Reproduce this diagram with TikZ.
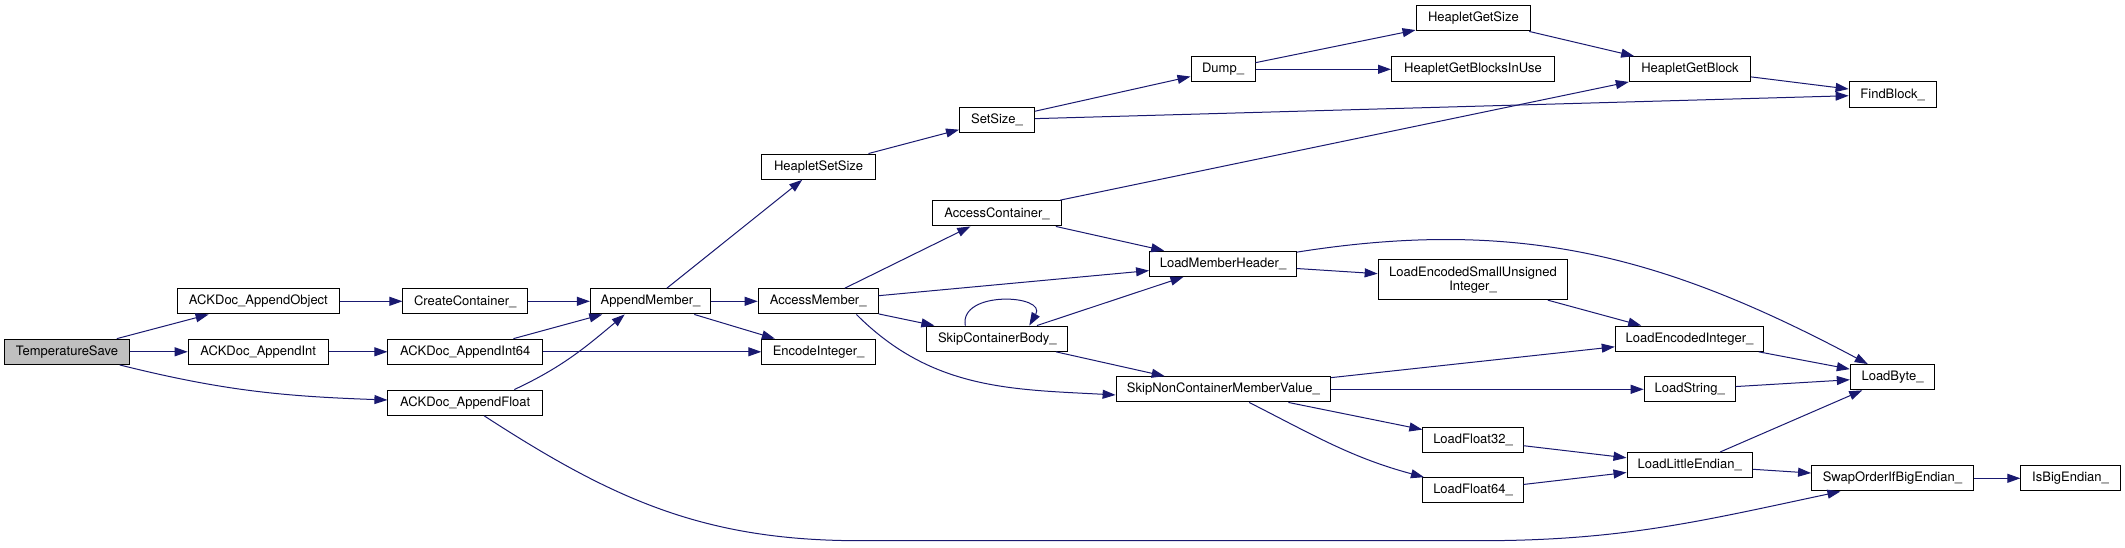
\documentclass[tikz,border=0pt]{standalone}
\usepackage{fontspec}
\setmainfont{TeX Gyre Heros}
\usetikzlibrary{arrows.meta}
\definecolor{edgeblue}{HTML}{191970}
\definecolor{rootgray}{HTML}{BFBFBF}

\begin{document}
\begin{tikzpicture}[
    x=1pt, y=1pt,
    fn/.style={
      rectangle, draw=black, fill=white, line width=1pt,
      font=\fontsize{13}{15}\selectfont,
      inner xsep=2pt, inner ysep=2pt,
      minimum height=25.3pt, align=center
    },
    root/.style={fn, fill=rootgray},
    edge/.style={-{Triangle[length=13pt, width=9pt]}, line width=1pt, draw=edgeblue}
  ]

    % ── Canvas (pixel units, y up) ───────────────────────────────────────
    \path[fill=white] (0,0) rectangle (2125,547);

    % ── Column 0-2: callers ──────────────────────────────────────────────
    \node[root, minimum width=124.3pt] (ts)   at (67,195.2)    {TemperatureSave};
    \node[fn, minimum width=162.6pt]   (ao)   at (258.4,245.7) {ACKDoc\_AppendObject};
    \node[fn, minimum width=140pt]     (ai)   at (258.2,195.2) {ACKDoc\_AppendInt};
    \node[fn, minimum width=124.6pt]   (cc)   at (465.2,245.7) {CreateContainer\_};
    \node[fn, minimum width=154.6pt]   (ai64) at (465.2,195.2) {ACKDoc\_AppendInt64};
    \node[fn, minimum width=154.6pt]   (af)   at (465.2,144.3) {ACKDoc\_AppendFloat};

    % ── Column 3-5 ───────────────────────────────────────────────────────
    \node[fn, minimum width=120.3pt] (am)  at (650.5,245.7) {AppendMember\_};
    \node[fn, minimum width=120pt]   (acm) at (818.2,245.7) {AccessMember\_};
    \node[fn, minimum width=113.6pt] (hss) at (818.6,380.3) {HeapletSetSize};
    \node[fn, minimum width=113.6pt] (ei)  at (818.6,195.2) {EncodeInteger\_};
    \node[fn, minimum width=75pt]    (ss)  at (997,427.3)   {SetSize\_};
    \node[fn, minimum width=129.3pt] (acc) at (997,333.7)   {AccessContainer\_};
    \node[fn, minimum width=141.1pt] (scb) at (997.3,208.3) {SkipContainerBody\_};

    % ── Column 6-7 ───────────────────────────────────────────────────────
    \node[fn, minimum width=64pt]    (dump)  at (1223,477.7)   {Dump\_};
    \node[fn, minimum width=146.8pt] (lmh)   at (1223,283.2)   {LoadMemberHeader\_};
    \node[fn, minimum width=214.6pt] (snc)   at (1223.4,157.7) {SkipNonContainerMemberValue\_};
    \node[fn, minimum width=114.7pt] (hgs)   at (1473.4,528.7) {HeapletGetSize};
    \node[fn, minimum width=163pt]   (hgbiu) at (1473,477.7)   {HeapletGetBlocksInUse};
    \node[fn, minimum width=189.7pt, minimum height=39.7pt] (lesui) at (1473,267.2)
      {LoadEncodedSmallUnsigned\\[-1pt]Integer\_};
    \node[fn, minimum width=100.3pt] (lf32)  at (1473,107.2)   {LoadFloat32\_};
    \node[fn, minimum width=100.3pt] (lf64)  at (1473,56.7)    {LoadFloat64\_};

    % ── Column 8-10: leaves ──────────────────────────────────────────────
    \node[fn, minimum width=121.4pt] (hgb) at (1690,477.7)   {HeapletGetBlock};
    \node[fn, minimum width=148.5pt] (lei) at (1689.5,208.3) {LoadEncodedInteger\_};
    \node[fn, minimum width=91pt]    (ls)  at (1689.7,157.7) {LoadString\_};
    \node[fn, minimum width=125.4pt] (lle) at (1689.7,81.8)  {LoadLittleEndian\_};
    \node[fn, minimum width=87pt]    (fb)  at (1892.6,452.5) {FindBlock\_};
    \node[fn, minimum width=84.4pt]  (lb)  at (1892.5,169.8) {LoadByte\_};
    \node[fn, minimum width=161.7pt] (sw)  at (1892.4,68.7)  {SwapOrderIfBigEndian\_};
    \node[fn, minimum width=99.3pt]  (ibe) at (2070.5,68.7)  {IsBigEndian\_};

    % waypoints of the long float edge
    \coordinate (lowleft)  at (860,6.3);
    \coordinate (lowright) at (1480,6.3);

    % ── Edges: callers ───────────────────────────────────────────────────
    \draw[edge] (ts) -- (ao);
    \draw[edge] (ts) -- (ai);
    \draw[edge] (ts) to[out=-14, in=178] (af);
    \draw[edge] (ao) -- (cc);
    \draw[edge] (ai) -- (ai64);
    \draw[edge] (cc) -- (am);
    \draw[edge] (ai64) -- (am);
    \draw[edge] (ai64) -- (ei);
    \draw[edge] (af.15) to[out=25, in=220] (am.207);
    \draw[edge] ([xshift=19pt]af.south) to[out=-33, in=180] (lowleft)
      -- (lowright) to[out=0, in=192] ([xshift=-52pt]sw.south);

    % ── Edges: AppendMember_ and below ───────────────────────────────────
    \draw[edge] (am) -- (hss);
    \draw[edge] (am) -- (acm);
    \draw[edge] (am) -- (ei);
    \draw[edge] (hss) -- (ss);
    \draw[edge] (ss) -- (dump);
    \draw[edge] (ss) -- (fb);
    \draw[edge] (dump) -- (hgs);
    \draw[edge] (dump) -- (hgbiu);
    \draw[edge] (hgs) -- (hgb);
    \draw[edge] (hgb) -- (fb);

    % ── Edges: AccessMember_ ─────────────────────────────────────────────
    \draw[edge] (acm) -- (acc);
    \draw[edge] (acm) -- (lmh);
    \draw[edge] (acm) -- (scb);
    \draw[edge] (acm.-19.5) to[out=-45, in=177] (snc.183);
    \draw[edge] (acc) -- (hgb);
    \draw[edge] (acc) -- (lmh);
    \draw[edge] ([xshift=-32pt]scb.north) .. controls +(100:36) and +(60:36) .. ([xshift=32pt]scb.north);
    \draw[edge] (scb) -- (lmh);
    \draw[edge] (scb) -- (snc);

    % ── Edges: loaders ───────────────────────────────────────────────────
    \draw[edge] (lmh) to[out=9, in=152] (lb);
    \draw[edge] (lmh) -- (lesui);
    \draw[edge] (lesui) -- (lei);
    \draw[edge] (snc) -- (lei);
    \draw[edge] (snc) -- (ls);
    \draw[edge] (snc) -- (lf32);
    \draw[edge] (snc) to[out=-27, in=165] (lf64);
    \draw[edge] (lei) -- (lb);
    \draw[edge] (ls) -- (lb);
    \draw[edge] (lf32) -- (lle);
    \draw[edge] (lf64) -- (lle);
    \draw[edge] (lle) -- (lb);
    \draw[edge] (lle) -- (sw);
    \draw[edge] (sw) -- (ibe);

  \end{tikzpicture}
\end{document}
